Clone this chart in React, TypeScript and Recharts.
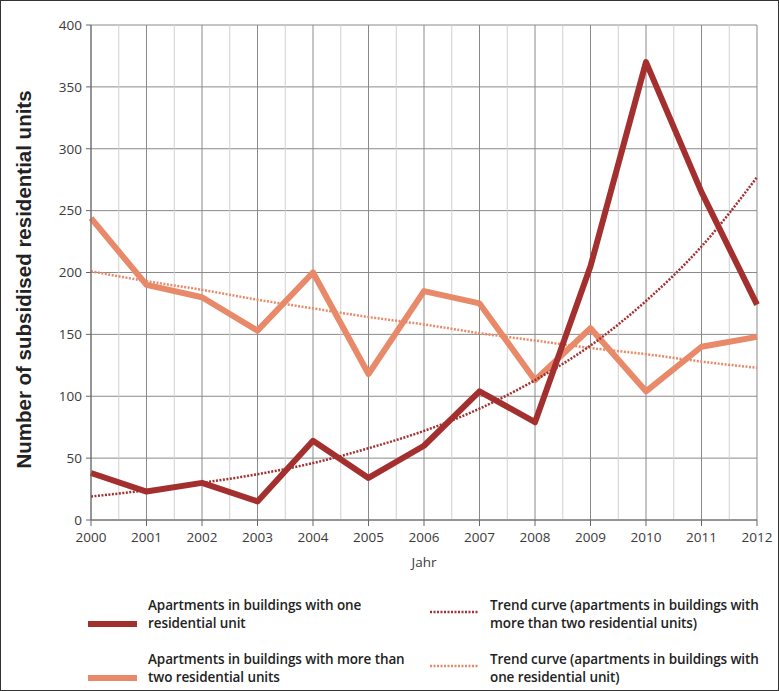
import React from "react";
import { LineChart, Line, XAxis, YAxis, CartesianGrid, ReferenceLine } from "recharts";

const years = [2000, 2001, 2002, 2003, 2004, 2005, 2006, 2007, 2008, 2009, 2010, 2011, 2012];
const oneUnit = [38, 23, 30, 15, 64, 34, 60, 104, 79, 205, 370, 265, 174];
const multiUnit = [244, 190, 180, 153, 200, 118, 185, 175, 113, 155, 104, 140, 148];
const trendOne = [19, 24, 30, 37, 46, 58, 72, 90, 113, 141, 177, 221, 277];
const trendMulti = [201, 193, 186, 178, 171, 164, 158, 151, 145, 139, 134, 128, 123];
const halfYears = [2000.5, 2001.5, 2002.5, 2003.5, 2004.5, 2005.5, 2006.5, 2007.5, 2008.5, 2009.5, 2010.5, 2011.5];
const yTicks = [0, 50, 100, 150, 200, 250, 300, 350, 400];

const DARK = "#a3302f";
const LIGHT = "#e88a6a";

const legendItems = [
  { key: "one", color: DARK, dotted: false, lines: ["Apartments in buildings with one", "residential unit"] },
  { key: "tone", color: DARK, dotted: true, lines: ["Trend curve (apartments in buildings with", "more than two residential units)"] },
  { key: "multi", color: LIGHT, dotted: false, lines: ["Apartments in buildings with more than", "two residential units"] },
  { key: "tmulti", color: LIGHT, dotted: true, lines: ["Trend curve (apartments in buildings with", "one residential unit)"] },
];

const data = years.map((y, i) => ({
  year: y,
  one: oneUnit[i],
  multi: multiUnit[i],
  tOne: trendOne[i],
  tMulti: trendMulti[i],
}));

const tickStyle = { fontFamily: "'Open Sans', sans-serif", fontSize: 13.5, fill: "#3a3a3a" };

export default function App() {
  const legendPos = [
    { left: 88, top: 596 },
    { left: 430, top: 596 },
    { left: 88, top: 650 },
    { left: 430, top: 650 },
  ];
  return (
    <div style={{ position: "absolute", left: 0, top: 0, width: 779, height: 691, background: "#fff" }}>
      <div style={{ position: "absolute", left: 0, top: 0, width: 779, height: 691, boxSizing: "border-box", border: "1px solid #333", pointerEvents: "none" }} />
      <LineChart width={779} height={691} data={data} margin={{ top: 25, right: 22, bottom: 121, left: 0 }}>
        <CartesianGrid stroke="#8a8a8a" strokeWidth={1} />
        {halfYears.map((h) => (
          <ReferenceLine key={h} x={h} stroke="#d0d0d0" strokeWidth={1} />
        ))}
        <XAxis
          dataKey="year"
          type="number"
          domain={[2000, 2012]}
          ticks={years}
          interval={0}
          tickSize={6}
          tickMargin={6}
          stroke="#666"
          tick={tickStyle}
          height={50}
          label={{
            content: (p: any) => (
              <text x={p.viewBox.x + p.viewBox.width / 2} y={567} textAnchor="middle" style={{ fontFamily: "'Open Sans', sans-serif", fontSize: 13.5, fill: "#3a3a3a" }}>
                Jahr
              </text>
            ),
          }}
        />
        <YAxis
          type="number"
          domain={[0, 400]}
          ticks={yTicks}
          interval={0}
          width={91}
          tickSize={5}
          tickMargin={4}
          stroke="#666"
          tick={tickStyle}
          label={{
            content: (p: any) => (
              <text
                x={31}
                y={p.viewBox.y + p.viewBox.height / 2 + 7}
                textAnchor="middle"
                transform={`rotate(-90 31 ${p.viewBox.y + p.viewBox.height / 2 + 7})`}
                style={{ fontFamily: "'Liberation Sans', Arial, sans-serif", fontSize: 20.5, fontWeight: 700, fill: "#222" }}
              >
                Number of subsidised residential units
              </text>
            ),
          }}
        />
        <Line dataKey="tMulti" stroke={LIGHT} strokeWidth={2.5} strokeDasharray="2 1.5" dot={false} isAnimationActive={false} type="monotone" />
        <Line dataKey="multi" stroke={LIGHT} strokeWidth={6} dot={false} isAnimationActive={false} type="linear" strokeLinejoin="round" />
        <Line dataKey="one" stroke={DARK} strokeWidth={6} dot={false} isAnimationActive={false} type="linear" strokeLinejoin="round" />
        <Line dataKey="tOne" stroke={DARK} strokeWidth={2.5} strokeDasharray="2 1.5" dot={false} isAnimationActive={false} type="monotone" />
      </LineChart>
      {legendItems.map((it, i) => (
        <div key={it.key} style={{ position: "absolute", left: legendPos[i].left, top: legendPos[i].top, display: "flex", alignItems: "flex-start" }}>
          <svg width={50} height={36} style={{ marginRight: 10, flex: "none" }}>
            {it.dotted ? (
              <line x1={0} y1={16} x2={48} y2={16} stroke={it.color} strokeWidth={2.5} strokeDasharray="2 1.5" />
            ) : (
              <line x1={0} y1={28} x2={49} y2={28} stroke={it.color} strokeWidth={6} />
            )}
          </svg>
          <div style={{ fontFamily: "'Open Sans', sans-serif", fontWeight: 600, fontSize: 13.5, letterSpacing: -0.1, lineHeight: "18px", color: "#222", whiteSpace: "nowrap" }}>
            {it.lines.map((l) => (
              <div key={l}>{l}</div>
            ))}
          </div>
        </div>
      ))}
    </div>
  );
}
